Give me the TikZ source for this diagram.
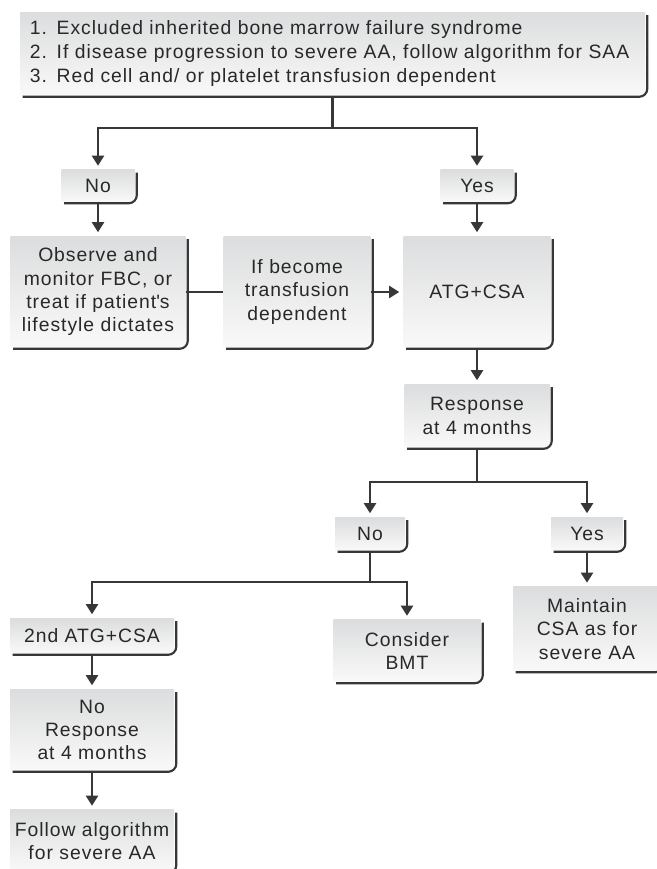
\documentclass[tikz,border=0pt]{standalone}
\usepackage{fontspec}
\setmainfont{Liberation Sans}[LetterSpace=5]
\usepackage{tikz}
\usetikzlibrary{arrows.meta, calc}
\definecolor{AAInk}{RGB}{55, 55, 55}
\definecolor{AAText}{RGB}{40, 40, 40}
\definecolor{AATop}{RGB}{220, 221, 222}
\definecolor{AABot}{RGB}{249, 249, 249}

\begin{document}
\begin{tikzpicture}[x=0.75pt,y=0.75pt,
  stepbox/.style 2 args={minimum width=#1, text width=#1, minimum height=#2, inner sep=0pt,
    align=center, top color=AATop, bottom color=AABot, text=AAText,
    font=\fontsize{14.5}{17.5}\selectfont},
  conn/.style={AAInk, line width=1.6pt},
  arr/.style={conn, -{Triangle[length=7.5pt,width=9pt]}, shorten >=3pt}]
  \path[use as bounding box] (0,0) rectangle (657,869);

  % criteria box
  \node[stepbox={468.75pt}{62.25pt}, text width=453.75pt, inner xsep=7.5pt, align=left,
    font=\fontsize{14.5}{18}\selectfont] (crit) at (332.5,815) {%
    1. Excluded inherited bone marrow failure syndrome\\
    2. If disease progression to severe AA, follow algorithm for SAA\\
    3. Red cell and/ or platelet transfusion dependent};

  \node[stepbox={54.75pt}{24pt}] (no1) at (98,683) {No};
  \node[stepbox={54.75pt}{24pt}] (yes1) at (477,683) {Yes};

  \node[stepbox={131.25pt}{83.25pt}] (obs) at (98,577) {Observe and\\ monitor FBC, or\\ treat if patient\textquotesingle s\\ lifestyle dictates};
  \node[stepbox={110.25pt}{83.25pt}] (ifb) at (297,577) {If become\\ transfusion\\ dependent};
  \node[stepbox={110.25pt}{83.25pt}] (atg) at (477,577) {ATG+CSA};

  \node[stepbox={108.75pt}{47.25pt}] (resp) at (477,453) {Response\\ at 4 months};

  \node[stepbox={52.5pt}{24.75pt}] (no2) at (370,335) {No};
  \node[stepbox={54pt}{24.75pt}] (yes2) at (587,335) {Yes};

  \node[stepbox={111pt}{63pt}] (maint) at (587,240) {Maintain\\ CSA as for\\ severe AA};
  \node[stepbox={123pt}{26.25pt}] (snd) at (92,233) {2nd ATG+CSA};
  \node[stepbox={110.25pt}{46.5pt}] (cons) at (407,218) {Consider\\ BMT};
  \node[stepbox={123pt}{60.75pt}] (nores) at (92,139) {No\\ Response\\ at 4 months};
  \node[stepbox={123pt}{46.5pt}] (follow) at (92,28) {Follow algorithm\\ for severe AA};

  % dark right and bottom edges
  \foreach \n in {crit,no1,yes1,obs,ifb,atg,resp,no2,yes2,maint,snd,cons,nores,follow}
    \draw[conn, rounded corners=6pt] ($(\n.north east)+(2,-3)$) -- ($(\n.south east)+(2,-1)$)
      -- ($(\n.south west)+(3,-1)$);

  % connectors
  \coordinate (j1) at (332.5,741);
  \coordinate (j2) at (477,387);
  \coordinate (j3) at (370,287);

  \draw[conn] (crit.south) -- (j1);
  \draw[arr] (j1) -| (no1.north);
  \draw[arr] (j1) -| (yes1.north);
  \draw[arr] (no1.south) -- (obs.north);
  \draw[arr] (yes1.south) -- (atg.north);
  \draw[conn] (obs.east) -- (ifb.west);
  \draw[arr] (ifb.east) -- (atg.west);
  \draw[arr] (atg.south) -- (resp.north);
  \draw[conn] (resp.south) -- (j2);
  \draw[arr] (j2) -| (no2.north);
  \draw[arr] (j2) -| (yes2.north);
  \draw[arr] (yes2.south) -- (maint.north);
  \draw[conn] (no2.south) -- (j3);
  \draw[arr] (j3) -| (snd.north);
  \draw[arr] (j3) -| (cons.north);
  \draw[arr] (snd.south) -- (nores.north);
  \draw[arr] (nores.south) -- (follow.north);
\end{tikzpicture}
\end{document}
